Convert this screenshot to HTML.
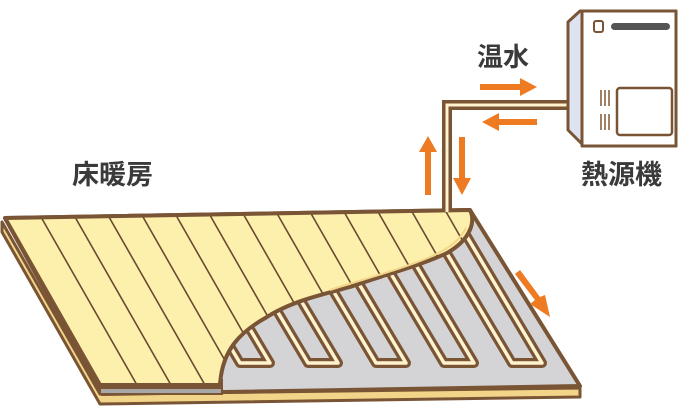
<!DOCTYPE html>
<html><head><meta charset="utf-8"><style>
html,body{margin:0;padding:0;background:#fff}
svg{display:block}
text{font-family:"Liberation Sans","Noto Sans CJK JP",sans-serif;font-weight:bold;fill:#3a3a3a}
</style></head><body>
<svg width="680" height="410" viewBox="0 0 680 410" xmlns="http://www.w3.org/2000/svg">
<defs>
<clipPath id="fl"><path d="M5,218 L470,210 C476,222 470,240 447,253 C420,266 380,276 350,287 C320,295 290,302 267,317 C240,332 222,350 220,385 L100,385 Z"/></clipPath>
<clipPath id="gr"><path d="M8,222 L468,214 L575,384 L104,391 Z"/></clipPath>
</defs>
<g stroke="#7a5535" stroke-linejoin="round">
<path d="M2,222 L100,394 L580,388 L580,397 L100,404 L2,232 Z" fill="#f3d58a" stroke-width="3"/>
<path d="M5,218 L470,210 L580,386 L102,394 Z" fill="#d4d4d6" stroke-width="4"/>
</g>
<g fill="none" stroke-linejoin="round" stroke-linecap="round" clip-path="url(#gr)">
<g stroke="#7a5535" stroke-width="10">
<path d="M164,235 L240,363 L270,363 L194,235"/>
<path d="M232,235 L308,363 L338,363 L262,235"/>
<path d="M300,235 L376,363 L406,363 L330,235"/>
<path d="M368,235 L444,363 L474,363 L398,235"/>
<path d="M436,235 L512,363 L542,363 L466,235"/>
</g>
<g stroke="#fff3cf" stroke-width="3.5">
<path d="M164,235 L240,363 L270,363 L194,235"/>
<path d="M232,235 L308,363 L338,363 L262,235"/>
<path d="M300,235 L376,363 L406,363 L330,235"/>
<path d="M368,235 L444,363 L474,363 L398,235"/>
<path d="M436,235 L512,363 L542,363 L466,235"/>
</g>
</g>
<g stroke="#7a5535" stroke-width="2">
<rect x="100" y="380" width="122" height="8" fill="#f3d58a"/>
<rect x="100" y="388" width="122" height="6" fill="#a8a8a8"/>
</g>
<path d="M5,218 L470,210 C476,222 470,240 447,253 C420,266 380,276 350,287 C320,295 290,302 267,317 C240,332 222,350 220,385 L100,385 Z" fill="#fdf0ad"/>
<g clip-path="url(#fl)" stroke="#6b4a30" stroke-width="1.6">
<line x1="37" y1="210" x2="137" y2="385"/>
<line x1="71" y1="210" x2="171" y2="385"/>
<line x1="105" y1="210" x2="205" y2="385"/>
<line x1="139" y1="210" x2="239" y2="385"/>
<line x1="173" y1="210" x2="273" y2="385"/>
<line x1="207" y1="210" x2="307" y2="385"/>
<line x1="241" y1="210" x2="341" y2="385"/>
<line x1="275" y1="210" x2="375" y2="385"/>
<line x1="309" y1="210" x2="409" y2="385"/>
<line x1="343" y1="210" x2="443" y2="385"/>
<line x1="377" y1="210" x2="477" y2="385"/>
<line x1="411" y1="210" x2="511" y2="385"/>
<line x1="445" y1="210" x2="545" y2="385"/>
</g>
<path d="M5,218 L470,210 C476,222 470,240 447,253 C420,266 380,276 350,287 C320,295 290,302 267,317 C240,332 222,350 220,385 L100,385 Z" fill="none" stroke="#7a5535" stroke-width="4" stroke-linejoin="round"/>
<path d="M466,228 C460,240 450,248 430,257 C400,270 360,280 330,290" fill="none" stroke="#f3d58a" stroke-width="2"/>
<path d="M447,212 L447,105 L570,105" fill="none" stroke="#7a5535" stroke-width="10" stroke-linejoin="miter"/>
<path d="M447,212 L447,105 L570,105" fill="none" stroke="#fff3cf" stroke-width="3" stroke-linejoin="miter"/>
<g fill="#ee7a22">
<path d="M480,84 L520,84 L520,78 L537,87 L520,96 L520,90 L480,90 Z"/>
<path d="M537,119 L499,119 L499,113 L482,122 L499,131 L499,125 L537,125 Z"/>
<path d="M425,195 L425,152 L419,152 L428,136 L437,152 L431,152 L431,195 Z"/>
<path d="M459,137 L459,178 L453,178 L462,195 L471,178 L465,178 L465,137 Z"/>
<path d="M515,274 L535,300 L530,304 L550,317 L545,295 L540,297 L520,270 Z"/>
</g>
<g stroke="#7a5535" stroke-width="3" stroke-linejoin="round">
<path d="M568,22 L580,11 L676,11 L676,146 L584,146 L568,130 Z" fill="#dde3f0"/>
<path d="M582,11 L676,11 L676,146 L582,146 Z" fill="#fff"/>
<rect x="617" y="88" width="55" height="47" rx="3" fill="#fff" stroke-width="2.5"/>
<rect x="594" y="21" width="9" height="11" rx="2" fill="#fff" stroke-width="2"/>
</g>
<rect x="611" y="23" width="59" height="7" rx="3.5" fill="#555"/>
<g stroke="#7a5535" stroke-width="1.5">
<line x1="601" y1="90" x2="601" y2="106"/><line x1="605" y1="90" x2="605" y2="106"/><line x1="609" y1="90" x2="609" y2="106"/>
<line x1="601" y1="114" x2="601" y2="130"/><line x1="605" y1="114" x2="605" y2="130"/><line x1="609" y1="114" x2="609" y2="130"/>
</g>
<text x="477" y="66" font-size="26">温水</text>
<text x="581" y="184" font-size="27">熱源機</text>
<text x="72" y="184" font-size="27">床暖房</text>
</svg>
</body></html>
